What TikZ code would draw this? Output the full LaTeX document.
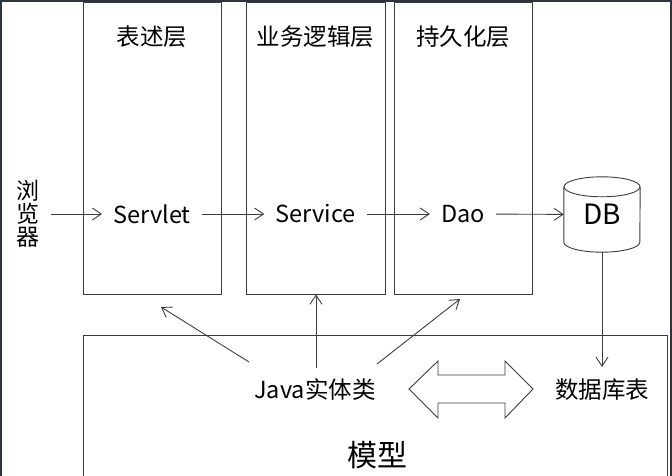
\documentclass[tikz,border=0pt]{standalone}
\usepackage{fontspec}
\setmainfont{Noto Sans CJK SC}
\usepackage{tikz}
\usetikzlibrary{arrows.meta,calc,positioning}
\pgfdeclarelayer{background}
\pgfdeclarelayer{foreground}
\pgfsetlayers{background,main,foreground}
\definecolor{linegray}{HTML}{3C3C3C}
\definecolor{framegray}{HTML}{2E3440}

\tikzset{
  layerbox/.style={draw=linegray, line width=.9pt, minimum width=138pt, minimum height=292pt, inner sep=0pt},
  txt/.style={font=\fontsize{23.5}{25}\selectfont, inner xsep=11pt, inner ysep=2pt},
  arr/.style={-{Straight Barb[length=9pt,width=12pt]}, draw=linegray, line width=.9pt},
  thinline/.style={draw=linegray, line width=.9pt}
}

\begin{document}
\begin{tikzpicture}[x=1pt,y=-1pt]
\clip (0,0) rectangle (672,476);

\begin{pgfonlayer}{background}
%window frame
\draw [line width=2pt, draw=framegray] (1,480) -- (1,1) -- (671,1) -- (671,480);

%three layers
\node [layerbox] (box1) at (152,148) {};
\node [layerbox, minimum width=139pt] (box2) at (315.5,148) {};
\node [layerbox] (box3) at (463,148) {};

%model
\draw [thinline] (83,335) rectangle (667,490);
\end{pgfonlayer}

%titles
\node [txt] (t1) at (152,37) {表述层};
\node [txt] (t2) at (315.5,37) {业务逻辑层};
\node [txt] (t3) at (463,37) {持久化层};

%request chain
\node [txt, align=center, font=\fontsize{23}{23}\selectfont] (browser) at (28,214) {浏\\览\\器};
\node [txt] (servlet) at (152,214) {Servlet};
\node [txt] (service) at (315.5,214) {Service};
\node [txt] (dao) at (463,214) {Dao};
\node [font=\fontsize{28}{30}\selectfont, minimum width=76pt, minimum height=75pt, inner sep=0pt] (db) at (602,214.5) {DB};

%cylinder
\draw [thinline] ($(db.north west)+(0,10)$) -- ($(db.south west)+(0,-10)$) arc (180:0:38 and 10) -- ($(db.north east)+(0,10)$);
\draw [thinline] ($(db.north)+(0,10)$) ellipse (38 and 10);

\draw [arr] (browser) -- (servlet);
\draw [arr] (servlet) -- (service);
\draw [arr] (service) -- (dao);
\draw [arr] (dao) -- (db);

%bottom row
\node [txt] (java) at (315,389) {Java实体类};
\node [txt] (tables) at (602,390) {数据库表};
\node [font=\fontsize{30}{32}\selectfont] (model) at (377,455) {模型};

\draw [arr, shorten >=10pt] (db) -- (tables);

%java to the layers
\coordinate (jl) at (249,362);
\coordinate (jm) at (316,368);
\coordinate (jr) at (377,364);
\coordinate (tipl) at (161,307);
\coordinate (tipr) at (460,299);
\draw [arr] (jl) -- (tipl);
\draw [arr] (jm) -- (jm |- box2.south);
\draw [arr] (jr) -- (tipr);

%mapping
\draw [thinline, line join=miter] (409,389) -- (438,361) -- (438,375) -- (505,375) -- (505,361) -- (533,389)
  -- (505,418) -- (505,403) -- (438,403) -- (438,418) -- cycle;

\end{tikzpicture}
\end{document}
